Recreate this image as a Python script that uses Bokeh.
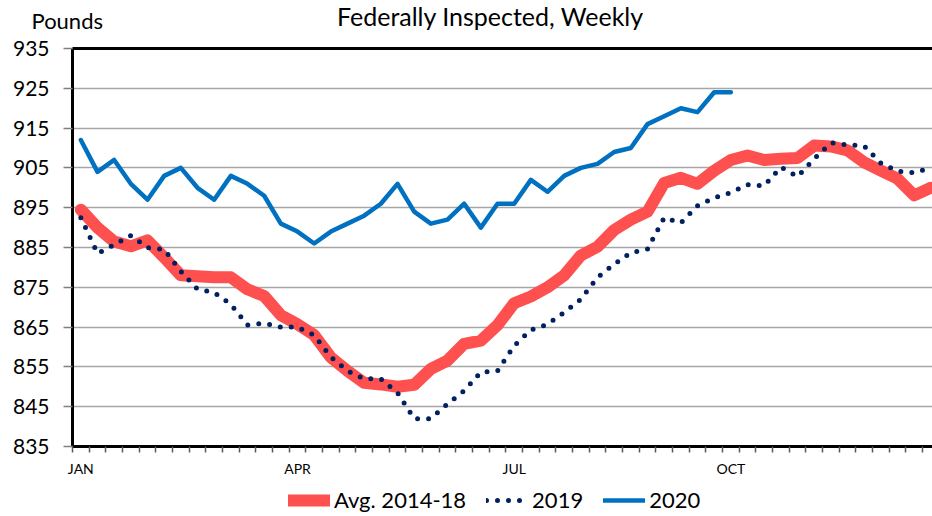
import numpy as np
from bokeh.plotting import figure
from bokeh.models import (Range1d, FixedTicker, Label, Legend, LegendItem, LinearAxis)
from bokeh.embed import file_html
from bokeh.resources import INLINE

# ---- data (pounds, weekly) ----
weeks = list(range(1, 53))
avg_2014_18 = [894.5, 890.0, 886.5, 885.3, 886.8, 882.5, 878.0, 877.8, 877.5, 877.5,
               874.5, 872.8, 868.0, 865.7, 863.0, 857.4, 854.0, 851.0, 850.6, 850.0,
               850.5, 854.5, 856.6, 860.8, 861.6, 865.5, 871.0, 872.7, 875.0, 878.0,
               883.0, 885.2, 889.4, 892.0, 894.0, 901.2, 902.5, 901.0, 904.3, 907.0,
               908.1, 907.0, 907.3, 907.5, 910.6, 910.4, 909.4, 906.4, 904.3, 902.3,
               898.1, 900.0]
y2019 = [892.5, 883.5, 885.7, 888.0, 885.0, 884.5, 879.0, 874.5, 873.7, 870.7,
         865.5, 866.0, 865.0, 865.0, 863.0, 857.5, 854.0, 852.0, 852.0, 848.5,
         842.0, 842.0, 845.7, 849.0, 853.7, 854.0, 860.3, 864.3, 865.7, 868.7,
         872.0, 877.5, 880.8, 883.7, 884.6, 892.5, 891.2, 895.5, 897.5, 898.8,
         900.8, 900.5, 905.2, 902.8, 907.3, 911.3, 910.8, 910.5, 906.2, 904.2,
         903.8, 905.0]
y2020 = [912, 904, 907, 901, 897, 903, 905, 900, 897, 903,
         901, 898, 891, 889, 886, 889, 891, 893, 896, 901,
         894, 891, 892, 896, 890, 896, 896, 902, 899, 903,
         905, 906, 909, 910, 916, 918, 920, 919, 924, 924]
weeks_2020 = weeks[:len(y2020)]

tick_weeks = [1, 14, 27, 40]
tick_labels = ["JAN", "APR", "JUL", "OCT"]
y_ticks = list(range(835, 936, 10))
series_names = ["Avg. 2014-18", "2019", "2020"]
title_text = "Federally Inspected, Weekly"
unit_text = "Pounds"

FONT = "Lato"
W, H = 932, 516

# ---- layout geometry (pixels) ----
PLOT_L, PLOT_T, PLOT_B = 72, 48, 446       # plot area edges on the canvas
PX_WEEK = 16.667                            # pixels per week
Y_LO, Y_HI = y_ticks[0], y_ticks[-1]
PX_UNIT = (PLOT_B - PLOT_T) / (Y_HI - Y_LO)
X0 = 0.5 - PLOT_L / PX_WEEK
X1 = 0.5 + (W - PLOT_L) / PX_WEEK
Y0 = Y_LO - (H - PLOT_B) / PX_UNIT
Y1 = Y_HI + PLOT_T / PX_UNIT

p = figure(width=W, height=H, output_backend="svg", toolbar_location=None,
           x_range=Range1d(X0, X1), y_range=Range1d(Y0, Y1),
           min_border=0, outline_line_color=None,
           background_fill_color="white", border_fill_color="white")

# x axis, drawn at the bottom of the plot area
xa = p.xaxis[0]
xa.fixed_location = Y_LO
xa.bounds = (0.5, X1)
xa.ticker = FixedTicker(ticks=tick_weeks, minor_ticks=[w - 0.5 for w in range(1, 54)])
xa.major_label_overrides = {w: lab for w, lab in zip(tick_weeks, tick_labels)}
xa.axis_line_color = "black"
xa.axis_line_width = 3
xa.major_tick_in = 0
xa.major_tick_out = 0
xa.minor_tick_in = 0
xa.minor_tick_out = 6
xa.minor_tick_line_color = "#595959"
xa.minor_tick_line_width = 1.5
xa.major_label_text_font = FONT
xa.major_label_text_font_size = "14px"
xa.major_label_text_color = "black"
xa.major_label_standoff = 7

# y axis, drawn at the left of the plot area
ya = p.yaxis[0]
ya.fixed_location = 0.5
ya.bounds = (Y_LO, Y_HI)
ya.ticker = FixedTicker(ticks=y_ticks)
ya.axis_line_color = "black"
ya.axis_line_width = 3
ya.major_tick_in = 0
ya.major_tick_out = 9
ya.major_tick_line_color = "#808080"
ya.major_tick_line_width = 1.5
ya.minor_tick_in = 0
ya.minor_tick_out = 0
ya.major_label_text_font = FONT
ya.major_label_text_font_size = "21px"
ya.major_label_text_color = "black"
ya.major_label_standoff = 14

# top border of the plot area
top_axis = LinearAxis(fixed_location=Y_HI, bounds=(0.5, X1), ticker=FixedTicker(ticks=[]),
                      axis_line_color="black", axis_line_width=3,
                      major_tick_in=0, major_tick_out=0, minor_tick_in=0, minor_tick_out=0,
                      major_label_text_font_size="0px")
p.add_layout(top_axis, "above")

p.xgrid.visible = False
g = p.ygrid[0]
g.grid_line_color = "#A6A6A6"
g.grid_line_width = 1.5
if "cross_bounds" in g.properties():
    g.cross_bounds = (0.5, X1)

# series
r_avg = p.line(weeks, avg_2014_18, line_color="#FF5050", line_width=12,
               line_join="round", line_cap="round")
r19 = p.line(weeks, y2019, line_color="#002060", line_width=5,
             line_dash="0 11", line_cap="round", line_join="round")
r20 = p.line(weeks_2020, y2020, line_color="#0070C0", line_width=4.5,
             line_join="round", line_cap="round")

legend = Legend(items=[LegendItem(label=series_names[0], renderers=[r_avg]),
                       LegendItem(label=series_names[1], renderers=[r19]),
                       LegendItem(label=series_names[2], renderers=[r20])],
                orientation="horizontal", location=(288, 3),
                label_text_font=FONT, label_text_font_size="22px", label_text_color="black",
                glyph_width=42, glyph_height=20, label_height=20, label_standoff=4,
                spacing=20, padding=0, margin=0, border_line_color=None,
                background_fill_alpha=0)
p.add_layout(legend)

p.add_layout(Label(x=31, y=H - 6, x_units="screen", y_units="screen", text=unit_text,
                   text_font=FONT, text_font_size="22px", text_color="black",
                   text_align="left", text_baseline="top"))
p.add_layout(Label(x=490, y=H, x_units="screen", y_units="screen", text=title_text,
                   text_font=FONT, text_font_size="25px", text_color="black",
                   text_align="center", text_baseline="top"))

open("out.html", "w").write(file_html(p, INLINE))
